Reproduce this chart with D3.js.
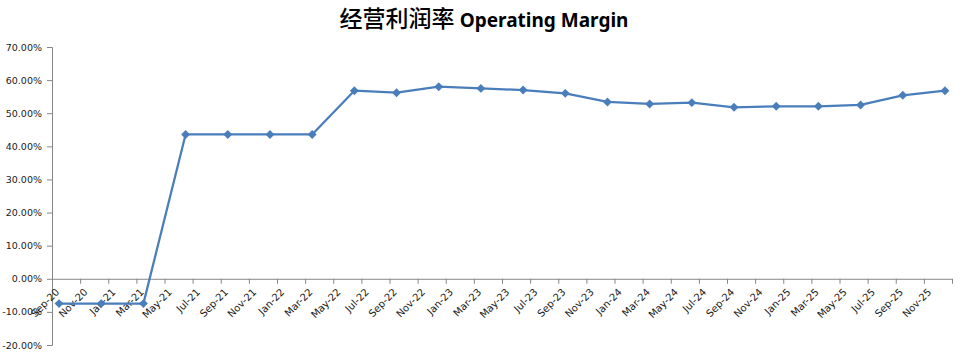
<!DOCTYPE html>
<html>
<head>
<meta charset="utf-8">
<script src="https://cdn.jsdelivr.net/npm/d3@7/dist/d3.min.js"></script>
<style>
  html, body { margin: 0; padding: 0; background: #fff; }
  svg { display: block; }
</style>
</head>
<body>
<svg id="chart" width="965" height="361"></svg>
<script>
// ---- Data ----
const titleCN = "经营利润率";
const titleEN = "Operating Margin";
const dates = ["2020-09","2020-12","2021-03","2021-06","2021-09","2021-12","2022-03","2022-06",
               "2022-09","2022-12","2023-03","2023-06","2023-09","2023-12","2024-03","2024-06",
               "2024-09","2024-12","2025-03","2025-06","2025-09","2025-12"];
const values = [-7.5,-7.5,-7.5,43.6,43.6,43.6,43.6,56.8,
                56.2,58.0,57.5,57.0,56.0,53.4,52.8,53.2,
                51.8,52.1,52.1,52.5,55.4,56.8];
const tickLabels = ["Sep-20","Nov-20","Jan-21","Mar-21","May-21","Jul-21","Sep-21","Nov-21",
                    "Jan-22","Mar-22","May-22","Jul-22","Sep-22","Nov-22","Jan-23","Mar-23",
                    "May-23","Jul-23","Sep-23","Nov-23","Jan-24","Mar-24","May-24","Jul-24",
                    "Sep-24","Nov-24","Jan-25","Mar-25","May-25","Jul-25","Sep-25","Nov-25"];
const yTicks = [-20,-10,0,10,20,30,40,50,60,70];

// ---- Layout ----
const svg = d3.select("#chart");
const startMonth = new Date(2020, 8, 1);
const monthIdx = s => { const [yy, mm] = s.split("-").map(Number); return d3.timeMonth.count(startMonth, new Date(yy, mm - 1, 1)); };
const totalMonths = 64;

const x = d3.scaleLinear().domain([0, totalMonths]).range([52, 952]);
const y = d3.scaleLinear().domain([-20, 70]).range([345, 47]);

const axisColor = "#868686";
const textColor = "#1a1a1a";
const lineColor = "#4A7EBB";
const labelFont = "'DejaVu Sans', Verdana, sans-serif";

// Y axis
const yAxis = svg.append("g")
  .attr("transform", `translate(${x(0)},0)`)
  .call(d3.axisLeft(y).tickValues(yTicks).tickSize(5).tickPadding(5)
        .tickFormat(d => d.toFixed(2) + "%"));
yAxis.select(".domain").attr("stroke", axisColor).attr("stroke-width", 1);
yAxis.selectAll(".tick line").attr("stroke", axisColor);
yAxis.selectAll(".tick text")
  .attr("fill", textColor)
  .style("font-family", labelFont)
  .style("font-size", "9.5px");

// X axis (at zero)
const xTickVals = d3.range(0, totalMonths + 1, 2);
const xAxis = svg.append("g")
  .attr("transform", `translate(0,${y(0)})`)
  .call(d3.axisBottom(x).tickValues(xTickVals).tickSize(5).tickSizeOuter(0).tickFormat(""));
xAxis.select(".domain").attr("stroke", axisColor).attr("stroke-width", 1);
xAxis.selectAll(".tick line").attr("stroke", axisColor);

// X labels rotated
svg.append("g").selectAll("text")
  .data(tickLabels)
  .join("text")
  .attr("transform", (d, i) => `translate(${x(i * 2 + 0.5) + 1},${y(0) + 14}) rotate(-45)`)
  .attr("text-anchor", "end")
  .attr("fill", textColor)
  .style("font-family", labelFont)
  .style("font-size", "10px")
  .text(d => d);

// Line
const pts = dates.map((d, i) => ({ m: monthIdx(d) + 0.5, v: values[i] }));
svg.append("path")
  .datum(pts)
  .attr("fill", "none")
  .attr("stroke", lineColor)
  .attr("stroke-width", 2.25)
  .attr("stroke-linejoin", "round")
  .attr("d", d3.line().x(d => x(d.m)).y(d => y(d.v)));

// Markers
svg.append("g").selectAll("path")
  .data(pts)
  .join("path")
  .attr("transform", d => `translate(${x(d.m)},${y(d.v)}) rotate(45)`)
  .attr("d", d3.symbol(d3.symbolSquare, 40))
  .attr("fill", lineColor);

// Title
const title = svg.append("text")
  .attr("x", 484)
  .attr("y", 27)
  .attr("text-anchor", "middle")
  .attr("fill", "#000");
title.append("tspan")
  .style("font-family", "'Noto Sans CJK SC', sans-serif")
  .style("font-size", "23px")
  .style("font-weight", "500")
  .text(titleCN + " ");
title.append("tspan")
  .style("font-family", "'Noto Sans', sans-serif")
  .style("font-size", "19px")
  .style("font-weight", "bold")
  .text(titleEN);
</script>
</body>
</html>
